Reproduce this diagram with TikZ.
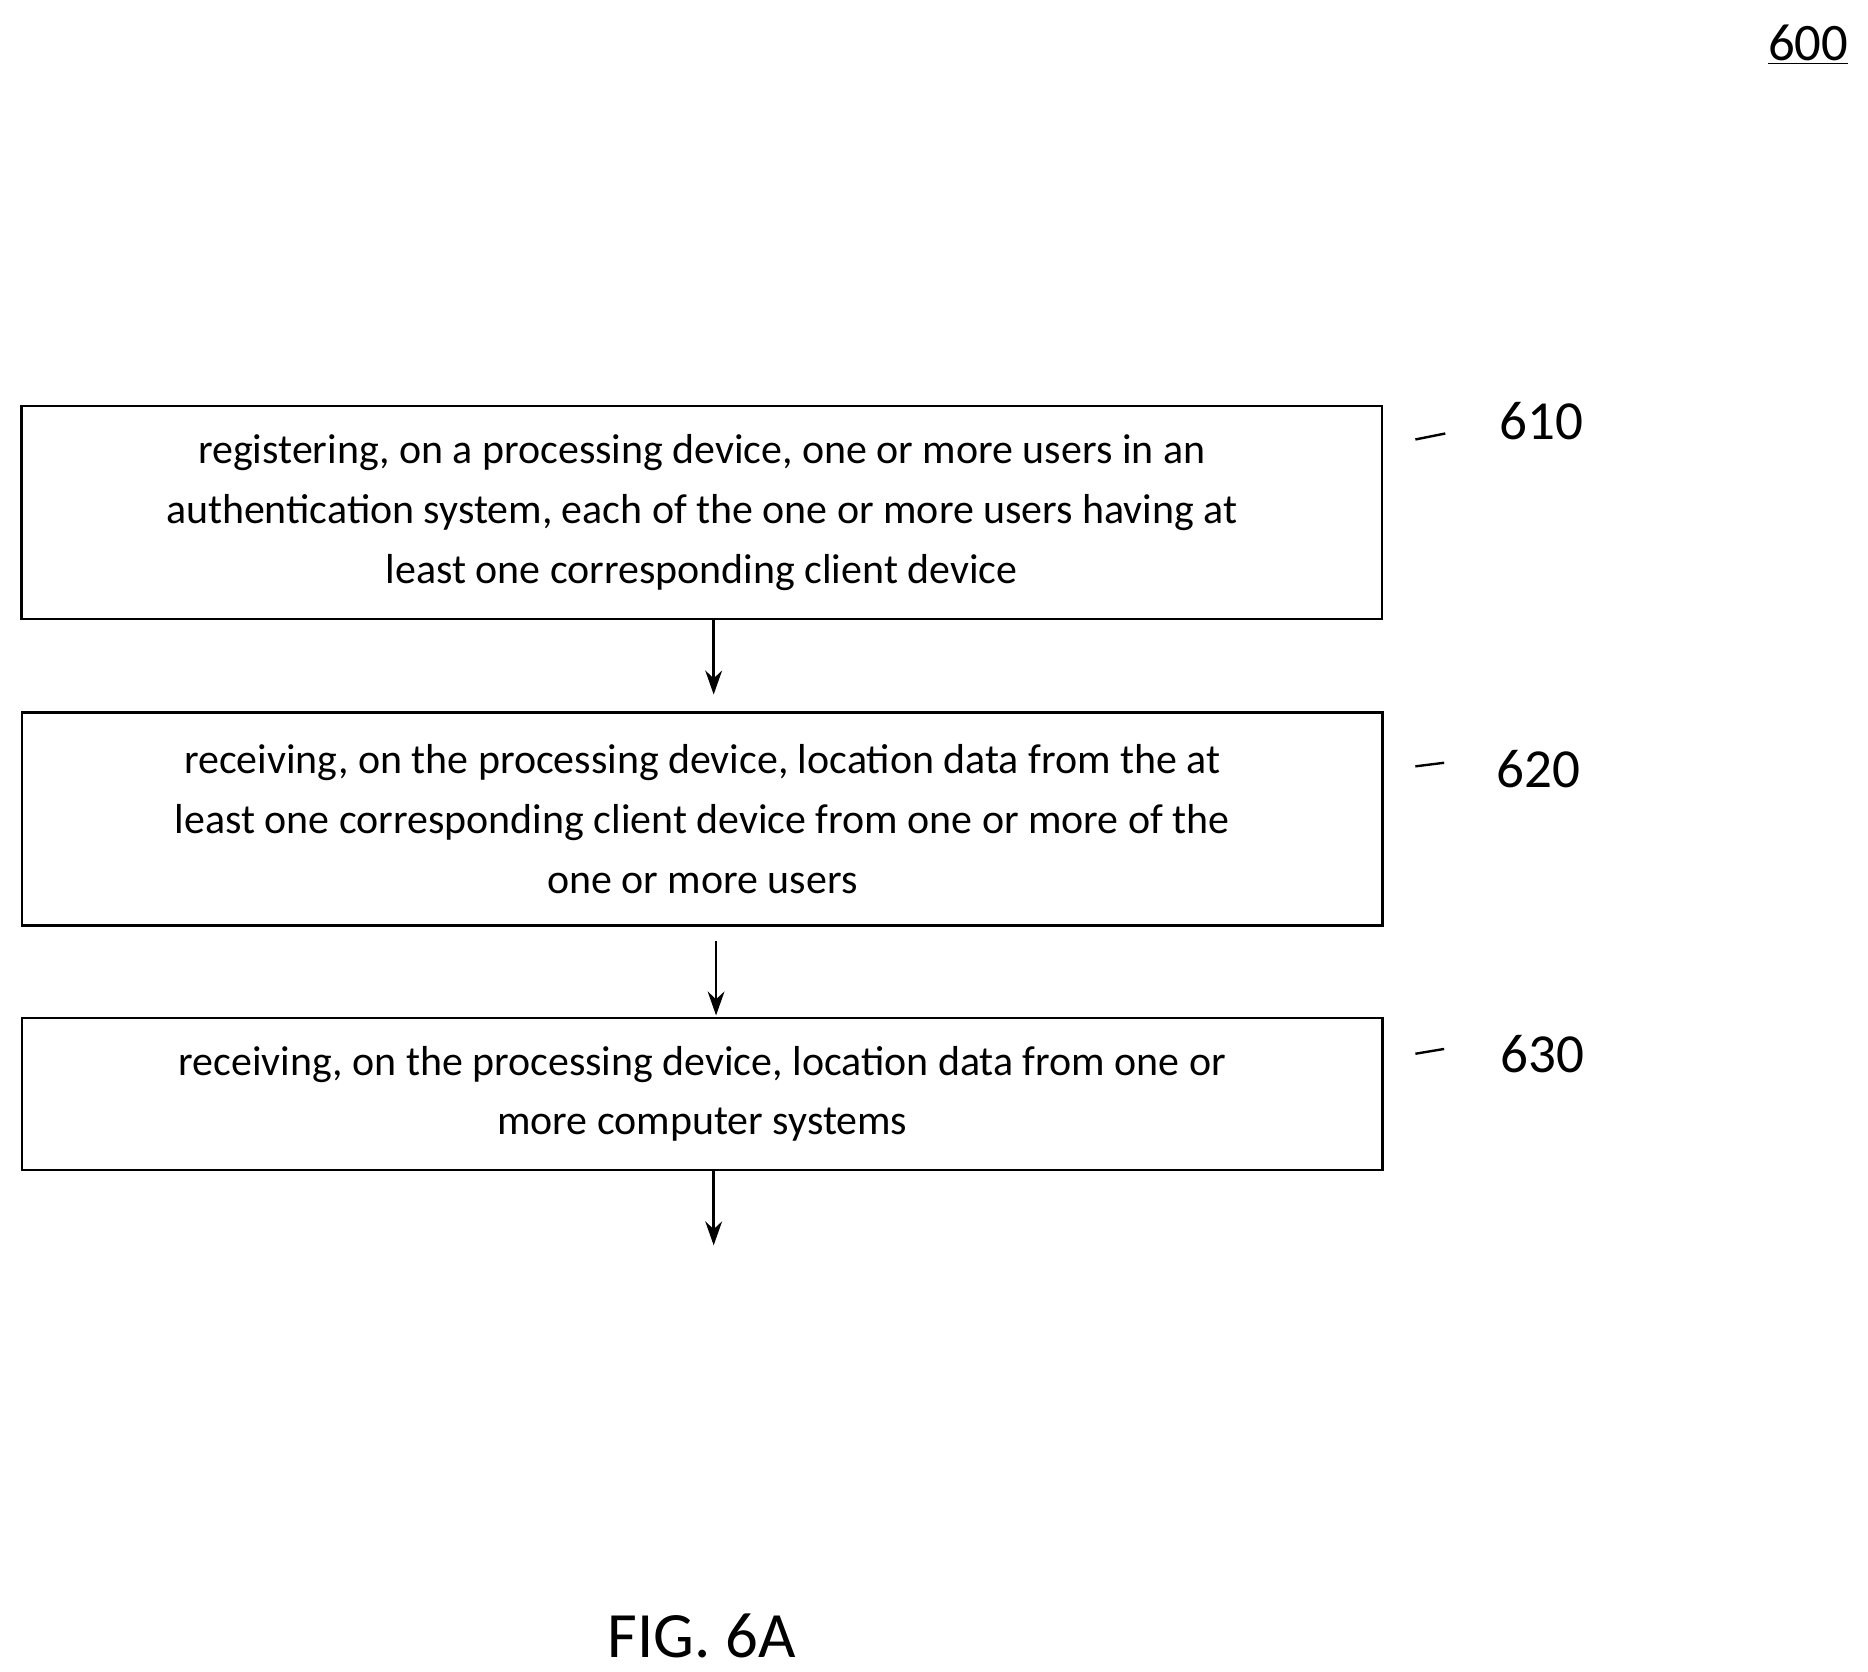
\documentclass[tikz,border=0pt]{standalone}
\usepackage{fontspec}
\setmainfont{Carlito}
\usetikzlibrary{arrows.meta}
\begin{document}
\begin{tikzpicture}[x=1pt,y=-1pt,
  box/.style={draw,line width=2pt,minimum width=1136pt,align=center,font=\fontsize{35}{50}\selectfont,inner sep=0pt},
  arr/.style={line width=2pt,-{Stealth[length=20pt,width=14pt]}},
  lab/.style={font=\fontsize{46}{50}\selectfont},
  tick/.style={line width=2pt}]
\useasboundingbox (0,0) rectangle (1560,1396);
\node[box,minimum height=178pt] (b1) at (586,428) {registering, on a processing device, one or more users in an\\authentication system, each of the one or more users having at\\least one corresponding client device};
\node[box,minimum height=178pt] (b2) at (586.5,684) {receiving, on the processing device, location data from the at\\least one corresponding client device from one or more of the\\one or more users};
\node[box,minimum height=127pt] (b3) at (586.5,913.5) {receiving, on the processing device, location data from one or\\more computer systems};
\coordinate (e1) at (596,580);
\coordinate (s2) at (598,786);
\coordinate (e2) at (598,848);
\coordinate (e3) at (596,1040);
\draw[arr] (b1.south -| e1) -- (e1);
\draw[arr] (s2) -- (e2);
\draw[arr] (b3.south -| e3) -- (e3);
\node[lab] (l1) at (1287,352) {610};
\node[lab] (l2) at (1285,642) {620};
\node[lab] (l3) at (1288,880) {630};
\draw[tick] (1182,367) -- (1207,362);
\draw[tick] (1182,640) -- (1206,637);
\draw[tick] (1182,880) -- (1206,876);
\node[lab,font=\fontsize{44}{50}\selectfont] (n600) at (1510,37) {\underline{600}};
\node[font=\fontsize{54}{60}\selectfont] (fig) at (586,1366) {FIG. 6A};
\end{tikzpicture}
\end{document}
